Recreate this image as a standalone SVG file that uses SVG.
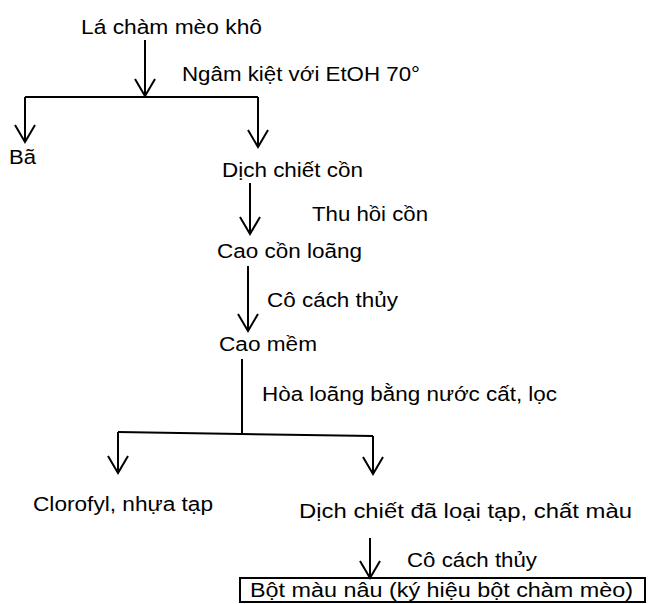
<svg xmlns="http://www.w3.org/2000/svg" width="648" height="604" viewBox="0 0 648 604">
<style>
text{font-family:"Liberation Sans",Arial,sans-serif;font-size:20px;fill:#000}
.c{fill:none;stroke:#000;stroke-width:2}
</style>
<defs>
<marker id="ah" viewBox="-19 -11 21 22" refX="0" refY="0" markerWidth="21" markerHeight="22" markerUnits="userSpaceOnUse" orient="auto">
<path d="M-17,-10 L0,0 L-17,10" fill="none" stroke="#000" stroke-width="2"/>
</marker>
</defs>
<rect width="648" height="604" fill="#fff"/>
<g id="connectors">
<line class="c" x1="145" y1="40" x2="145" y2="96" marker-end="url(#ah)"/>
<polyline class="c" points="25,97 258,97"/>
<line class="c" x1="25" y1="97" x2="25" y2="142" marker-end="url(#ah)"/>
<line class="c" x1="258" y1="97" x2="258" y2="147" marker-end="url(#ah)"/>
<line class="c" x1="250" y1="183" x2="250" y2="234" marker-end="url(#ah)"/>
<line class="c" x1="248" y1="266" x2="248" y2="331" marker-end="url(#ah)"/>
<line class="c" x1="242" y1="359" x2="242" y2="433"/>
<polyline class="c" points="118,432 373,436"/>
<line class="c" x1="118" y1="432" x2="118" y2="473" marker-end="url(#ah)"/>
<line class="c" x1="373" y1="436" x2="373" y2="474" marker-end="url(#ah)"/>
<line class="c" x1="370" y1="538" x2="370" y2="578" marker-end="url(#ah)"/>
</g>
<g id="n1"><text x="81" y="34" textLength="181" lengthAdjust="spacingAndGlyphs">Lá chàm mèo khô</text></g>
<g id="l1"><text x="182" y="81" textLength="238" lengthAdjust="spacingAndGlyphs">Ngâm kiệt với EtOH 70°</text></g>
<g id="n2"><text x="9" y="164" textLength="27" lengthAdjust="spacingAndGlyphs">Bã</text></g>
<g id="n3"><text x="222" y="177" textLength="141" lengthAdjust="spacingAndGlyphs">Dịch chiết cồn</text></g>
<g id="l2"><text x="312" y="221" textLength="116" lengthAdjust="spacingAndGlyphs">Thu hồi cồn</text></g>
<g id="n4"><text x="217" y="258" textLength="145" lengthAdjust="spacingAndGlyphs">Cao cồn loãng</text></g>
<g id="l3"><text x="267" y="307" textLength="131" lengthAdjust="spacingAndGlyphs">Cô cách thủy</text></g>
<g id="n5"><text x="219" y="351" textLength="98" lengthAdjust="spacingAndGlyphs">Cao mềm</text></g>
<g id="l4"><text x="262" y="401" textLength="295" lengthAdjust="spacingAndGlyphs">Hòa loãng bằng nước cất, lọc</text></g>
<g id="n6"><text x="33" y="511" textLength="180" lengthAdjust="spacingAndGlyphs">Clorofyl, nhựa tạp</text></g>
<g id="n7"><text x="299" y="518" textLength="333" lengthAdjust="spacingAndGlyphs">Dịch chiết đã loại tạp, chất màu</text></g>
<g id="l5"><text x="407" y="567" textLength="130" lengthAdjust="spacingAndGlyphs">Cô cách thủy</text></g>
<g id="n8">
<rect class="c" x="240" y="578" width="405" height="24"/>
<text x="250" y="597" textLength="383" lengthAdjust="spacingAndGlyphs">Bột màu nâu (ký hiệu bột chàm mèo)</text>
</g>
</svg>
